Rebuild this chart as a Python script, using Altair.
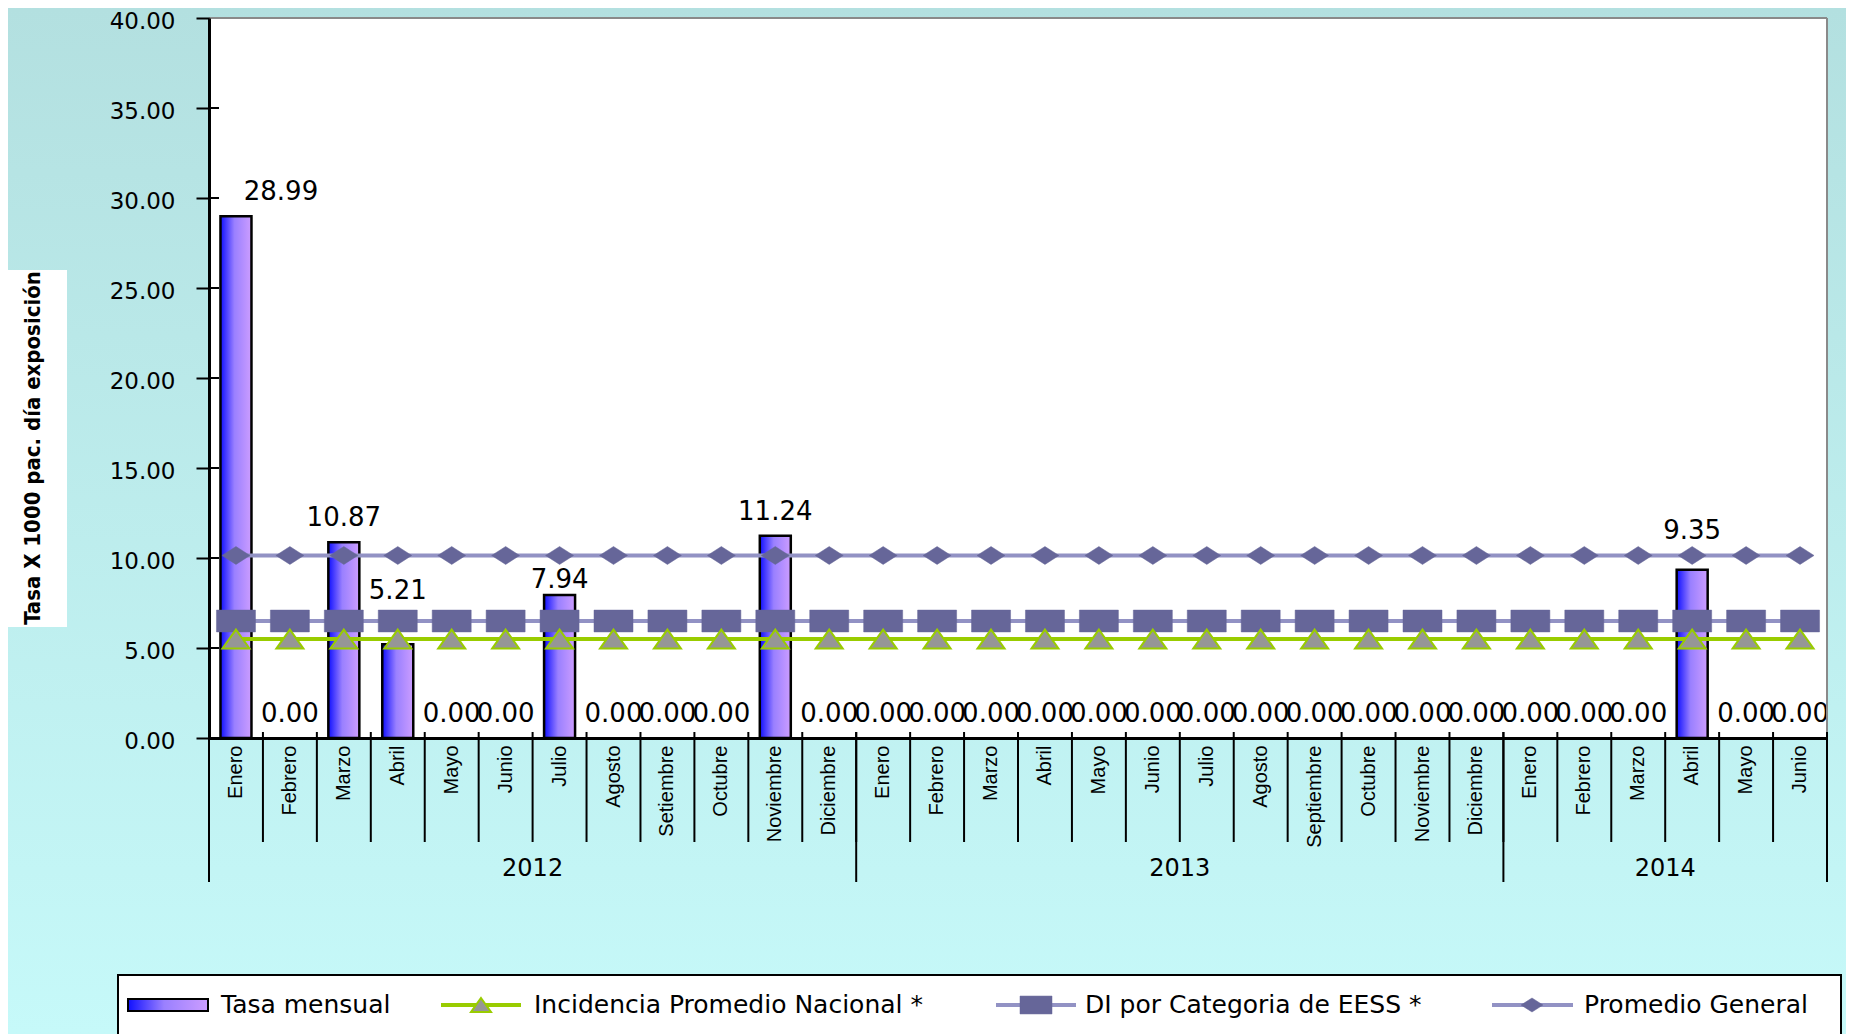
import altair as alt
import pandas as pd

# ---------------- data ----------------
years = ["2012"] * 12 + ["2013"] * 12 + ["2014"] * 6
months = ["Enero", "Febrero", "Marzo", "Abril", "Mayo", "Junio", "Julio", "Agosto",
          "Setiembre", "Octubre", "Noviembre", "Diciembre",
          "Enero", "Febrero", "Marzo", "Abril", "Mayo", "Junio", "Julio", "Agosto",
          "Septiembre", "Octubre", "Noviembre", "Diciembre",
          "Enero", "Febrero", "Marzo", "Abril", "Mayo", "Junio"]
tasa_mensual = [28.99, 0, 10.87, 5.21, 0, 0, 7.94, 0, 0, 0, 11.24, 0,
                0, 0, 0, 0, 0, 0, 0, 0, 0, 0, 0, 0,
                0, 0, 0, 9.35, 0, 0]
incidencia_nacional = [5.5] * 30
di_categoria = [6.5] * 30
promedio_general = [10.14] * 30
y_ticks = [0, 5, 10, 15, 20, 25, 30, 35, 40]
legend_labels = ["Tasa mensual", "Incidencia Promedio Nacional *",
                 "DI por Categoria de EESS *", "Promedio General"]
y_title = "Tasa X 1000 pac. día exposición"

# ---------------- layout / style ----------------
W, H = 1618, 720
PAD = {"left": 201, "top": 10, "right": 19, "bottom": 296}
PX_PER_UNIT = H / 40
# how far (px) above the bar top each value label sits (collision avoidance in the original)
label_lift = {"2012|Abril": 53, "2012|Julio": 15, "2014|Abril": 39}
DEFAULT_LIFT = 24

cats = [f"{y}|{m}" for y, m in zip(years, months)]
df = pd.DataFrame({
    "cat": cats,
    "tasa": tasa_mensual,
    "inc": incidencia_nacional,
    "di": di_categoria,
    "prom": promedio_general,
})
df["label"] = df["tasa"].map(lambda v: f"{v:.2f}")
df["ly"] = [t + label_lift.get(c, DEFAULT_LIFT) / PX_PER_UNIT for c, t in zip(cats, tasa_mensual)]

year_names, year_starts, year_mids = [], [], []
for y in dict.fromkeys(years):
    idx = [i for i, yy in enumerate(years) if yy == y]
    year_names.append(y)
    year_starts.append(cats[idx[0]])
    year_mids.append(cats[idx[0] + len(idx) // 2])
ydf = pd.DataFrame({"cat": year_starts, "mid": year_mids, "year": year_names})
enddf = pd.DataFrame({"cat": [cats[-1]]})
tickdf = pd.DataFrame({"v": y_ticks})
one = pd.DataFrame({"k": [0]})

xs = alt.Scale(domain=cats, paddingInner=0, paddingOuter=0)
ys = alt.Scale(domain=[0, 40], nice=False, zero=True)

NUMFONT = "DejaVu Sans"
TXTFONT = "Liberation Sans"

DIAMOND = "M0,-0.64L1,0L0,0.64L-1,0Z"
RECT = "M-1,-0.56L1,-0.56L1,0.56L-1,0.56Z"
TRI = "M0,-0.7L1,0.7L-1,0.7Z"

bar_grad = alt.LinearGradient(
    gradient="linear", x1=0, x2=1, y1=0, y2=0,
    stops=[alt.GradientStop(offset=0, color="#1010ff"),
           alt.GradientStop(offset=0.45, color="#9a80ff"),
           alt.GradientStop(offset=1, color="#cc9dff")])
bg_grad = alt.LinearGradient(
    gradient="linear", x1=0, x2=0, y1=0, y2=1,
    stops=[alt.GradientStop(offset=0, color="#b3e0e0"),
           alt.GradientStop(offset=1, color="#c6f9f9")])

# ---------------- axes (same objects everywhere so they merge) ----------------
x_axis = alt.Axis(title=None, labelExpr="split(datum.value, '|')[1]", labelAngle=270,
                  labelAlign="right", labelBaseline="middle", labelFont=TXTFONT,
                  labelFontSize=20, labelColor="black", labelPadding=7, ticks=False,
                  domainColor="black", domainWidth=3, labelOverlap=False,
                  labelBound=False, grid=False, zindex=1)
y_axis = alt.Axis(title=None, values=y_ticks, format=".2f", labelFont=NUMFONT,
                  labelFontSize=23, labelColor="black", tickSize=13, tickColor="black",
                  tickWidth=2, domainColor="black", domainWidth=3, labelPadding=21,
                  labelOffset=3, grid=False, labelFlush=False, zindex=1)


def X(field, bp=None):
    if bp is None:
        return alt.X(f"{field}:N", scale=xs, axis=x_axis)
    return alt.X(f"{field}:N", scale=xs, axis=x_axis, bandPosition=bp)


def Y(field):
    return alt.Y(f"{field}:Q", scale=ys, axis=y_axis)


# ---------------- background & frame ----------------
bg = alt.Chart(one).mark_rect(fill=bg_grad).encode(
    x=alt.value(-PAD["left"] - 8), x2=alt.value(W + PAD["right"]),
    y=alt.value(-PAD["top"]), y2=alt.value(H + PAD["bottom"]))
plotbg = alt.Chart(one).mark_rect(fill="white").encode(
    x=alt.value(0), x2=alt.value(W), y=alt.value(0), y2=alt.value(H))
top_border = alt.Chart(one).mark_rule(color="#8a8a8a", strokeWidth=2).encode(
    x=alt.value(0), x2=alt.value(W), y=alt.value(0))
right_border = alt.Chart(one).mark_rule(color="#8a8a8a", strokeWidth=2).encode(
    x=alt.value(W), y=alt.value(0), y2=alt.value(H))

title_box = alt.Chart(one).mark_rect(fill="white").encode(
    x=alt.value(-PAD["left"] - 8), x2=alt.value(-142), y=alt.value(252), y2=alt.value(609))
title_txt = alt.Chart(one).mark_text(
    text=y_title, angle=270, font="Liberation Sans Narrow, DejaVu Sans Condensed, Liberation Sans",
    fontWeight="bold", fontSize=22, align="center", baseline="middle", color="black").encode(
    x=alt.value(-176), y=alt.value(430))

bars = alt.Chart(df).transform_filter("datum.tasa > 0").mark_bar(
    size=31, fill=bar_grad, stroke="black", strokeWidth=2.5).encode(
    x=X("cat"), y=Y("tasa"))

inner_ticks = alt.Chart(tickdf).mark_rule(color="black", strokeWidth=2).encode(
    x=alt.value(0), x2=alt.value(10), y=Y("v"))


def series(col, line_color, shape, size, fill, stroke, sw):
    base = alt.Chart(df).encode(x=X("cat"), y=Y(col))
    return [base.mark_line(color=line_color, strokeWidth=4),
            base.mark_point(shape=shape, size=size, filled=True, fill=fill,
                            stroke=stroke, strokeWidth=sw, opacity=1)]


prom_layers = series("prom", "#9292c4", DIAMOND, 784, "#666699", "#666699", 0.5)
di_layers = series("di", "#9292c4", RECT, 1521, "#666699", "#666699", 0.5)
inc_layers = series("inc", "#99cc00", TRI, 729, "#969696", "#99cc00", 2)

lab_first = alt.Chart(df).transform_filter(f"datum.cat == '{cats[0]}'").mark_text(
    font=NUMFONT, fontSize=26, baseline="middle", align="center", dx=45,
    color="black").encode(x=X("cat"), y=Y("ly"), text="label:N")
lab_rest = alt.Chart(df).transform_filter(f"datum.cat != '{cats[0]}'").mark_text(
    font=NUMFONT, fontSize=26, baseline="middle", align="center",
    color="black").encode(x=X("cat"), y=Y("ly"), text="label:N")

# ---------------- category grid below the axis ----------------
bounds = alt.Chart(df).mark_rule(color="black", strokeWidth=2).encode(
    x=X("cat", 0), y=alt.value(H - 6), y2=alt.value(H + 104))
ysep = alt.Chart(ydf).mark_rule(color="black", strokeWidth=2).encode(
    x=X("cat", 0), y=alt.value(H - 6), y2=alt.value(H + 144))
yend = alt.Chart(enddf).mark_rule(color="black", strokeWidth=2).encode(
    x=X("cat", 1), y=alt.value(H - 6), y2=alt.value(H + 144))
ylab = alt.Chart(ydf).mark_text(font=NUMFONT, fontSize=24, align="center",
                                baseline="middle", color="black").encode(
    x=X("mid", 0), y=alt.value(H + 131), text="year:N")

# ---------------- legend ----------------
LY = 987
leg = []
leg.append(alt.Chart(one).mark_rect(fill="white", stroke="black", strokeWidth=2).encode(
    x=alt.value(-91), x2=alt.value(1632), y=alt.value(957), y2=alt.value(1030)))
leg.append(alt.Chart(one).mark_rect(fill=bar_grad, stroke="black", strokeWidth=2).encode(
    x=alt.value(-81), x2=alt.value(-1), y=alt.value(LY - 6), y2=alt.value(LY + 6)))


def leg_line(x0, x1, color):
    return alt.Chart(one).mark_rule(color=color, strokeWidth=4).encode(
        x=alt.value(x0), x2=alt.value(x1), y=alt.value(LY))


def leg_pt(xc, shape, size, fill, stroke, sw):
    return alt.Chart(one).mark_point(shape=shape, size=size, filled=True, fill=fill,
                                     stroke=stroke, strokeWidth=sw, opacity=1).encode(
        x=alt.value(xc), y=alt.value(LY))


def leg_txt(x0, text, limit=0):
    kw = dict(text=text, font=NUMFONT, fontSize=25, align="left", baseline="middle",
              color="black")
    if limit:
        kw.update(limit=limit, ellipsis="")
    return alt.Chart(one).mark_text(**kw).encode(x=alt.value(x0), y=alt.value(LY))


leg += [leg_txt(12, legend_labels[0]),
        leg_line(232, 312, "#99cc00"), leg_pt(272, TRI, 400, "#969696", "#99cc00", 2),
        leg_txt(325, legend_labels[1]),
        leg_line(787, 867, "#9292c4"), leg_pt(827, RECT, 1024, "#666699", "#666699", 0.5),
        leg_txt(876, legend_labels[2]),
        leg_line(1283, 1364, "#9292c4"), leg_pt(1323, DIAMOND, 480, "#666699", "#666699", 0.5),
        leg_txt(1375, legend_labels[3], limit=255)]

chart = alt.layer(
    bg, plotbg, title_box, title_txt,
    bars, *prom_layers, *di_layers, *inc_layers,
    lab_first, lab_rest, inner_ticks, top_border, right_border,
    bounds, ysep, yend, ylab, *leg
).properties(
    width=W, height=H, padding=PAD,
    autosize=alt.AutoSizeParams(type="none"),
).configure(background="#bdecec").configure_view(strokeWidth=0, fill="white")

chart.save("out.html", embed_options={"renderer": "svg", "actions": False})
